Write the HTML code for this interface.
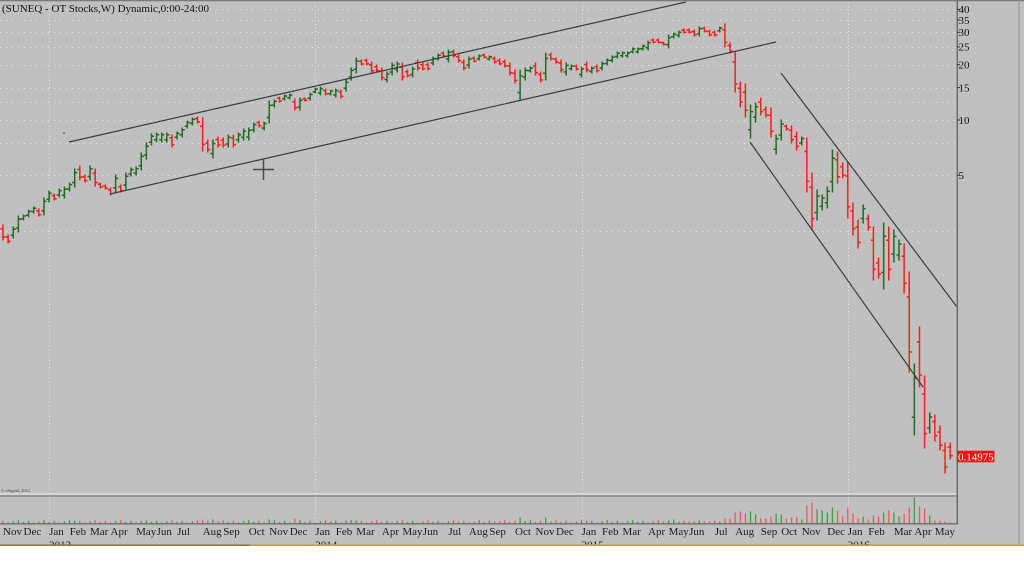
<!DOCTYPE html>
<html><head><meta charset="utf-8"><style>
html,body{margin:0;padding:0;background:#fff;}
body{width:1024px;height:576px;overflow:hidden;}
svg{display:block;}
text{font-family:"Liberation Serif",serif;}
</style></head><body>
<svg id="c" width="1024" height="576" viewBox="0 0 1024 576" xmlns="http://www.w3.org/2000/svg">
<rect x="0" y="0" width="1024" height="546" fill="#c0c0c0"/>
<g id="grid"></g>
<g id="vol"></g>
<g id="bars"></g>
<g fill="none" stroke="#3c3c3c" stroke-width="1.2">
<line x1="69" y1="142" x2="686" y2="2"/>
<line x1="110" y1="194" x2="776" y2="42"/>
<line x1="750" y1="142" x2="923" y2="387"/>
<line x1="781" y1="73" x2="957" y2="307"/>
</g>
<circle cx="64" cy="133" r="0.8" fill="#333"/>
<g stroke="#4a4a4a" stroke-width="1.5">
<line x1="253" y1="169.5" x2="274" y2="169.5"/>
<line x1="263.5" y1="159" x2="263.5" y2="180"/>
</g>
<line x1="0" y1="0.5" x2="1024" y2="0.5" stroke="#7a7a7a" stroke-width="1.5"/>
<line x1="0" y1="494" x2="957" y2="494" stroke="#ececec" stroke-width="1"/>
<line x1="0" y1="496" x2="957" y2="496" stroke="#7c7c7c" stroke-width="1.2"/>
<line x1="0" y1="523.8" x2="957" y2="523.8" stroke="#6c6c6c" stroke-width="1.3"/>
<line x1="957.3" y1="0" x2="957.3" y2="524.5" stroke="#6c6c6c" stroke-width="1.5"/>
<line x1="1019" y1="0" x2="1019" y2="546" stroke="#9c9c9c" stroke-width="1.2"/>
<g id="axis" font-size="11" fill="#111"></g>
<text x="2" y="12" font-size="11" fill="#111">(SUNEQ - OT Stocks,W) Dynamic,0:00-24:00</text>
<text x="1" y="492" font-size="4.5" fill="#444">© eSignal, 2011</text>
<rect x="957" y="450.7" width="37.5" height="11.6" fill="#ff1010"/>
<text x="958" y="460.5" font-size="11" fill="#fff">0.14975</text>
<g id="months" font-size="11" fill="#1a1a1a"></g>
<rect x="0" y="546" width="1024" height="30" fill="#ffffff"/>
<line x1="0" y1="545.2" x2="250" y2="545.2" stroke="#8f7a45" stroke-width="1.6"/>
<line x1="250" y1="545.2" x2="1024" y2="545.2" stroke="#c4a04a" stroke-width="1.6"/>
</svg>
<script>
(function(){
var NS="http://www.w3.org/2000/svg";
function el(tag,attrs,parent,txt){var e=document.createElementNS(NS,tag);for(var k in attrs)e.setAttribute(k,attrs[k]);if(txt!==undefined)e.textContent=txt;parent.appendChild(e);return e;}
var D=[
[225,240,'R'],[235,243,'R'],[227,238,'G'],[216,232,'G'],[215,220,'G'],[210,217,'G'],[207,213,'G'],[209,216,'R'],[198,215,'G'],[191,202,'G'],
[194,200,'R'],[189,197,'G'],[187,198,'G'],[183,191,'G'],[169,187,'G'],[166,180,'R'],[175,182,'R'],[166,180,'G'],[169,186,'R'],[183,188,'R'],
[185,189,'R'],[188,195,'R'],[175,192,'G'],[185,192,'R'],[173,189,'G'],[168,176,'G'],[167,175,'G'],[153,170,'G'],[143,159,'G'],[134,145,'G'],
[133,142,'G'],[133,142,'G'],[133,142,'G'],[135,147,'R'],[132,139,'G'],[128,137,'G'],[121,128,'G'],[118,125,'G'],[117,123,'R'],[118,151,'R'],
[140,152,'R'],[140,158,'G'],[137,147,'R'],[138,147,'R'],[135,147,'G'],[135,147,'R'],[133,142,'G'],[129,140,'G'],[128,140,'G'],[123,132,'G'],
[121,127,'R'],[122,130,'G'],[101,123,'G'],[100,107,'G'],[97,102,'R'],[95,100,'G'],[94,99,'G'],[99,110,'R'],[98,110,'G'],[98,101,'R'],
[93,100,'G'],[88,93,'G'],[87,95,'G'],[89,95,'R'],[90,95,'G'],[89,97,'G'],[90,98,'R'],[80,91,'G'],[68,80,'G'],[58,73,'G'],
[60,65,'R'],[59,65,'R'],[62,73,'R'],[65,72,'R'],[68,80,'R'],[72,82,'G'],[63,75,'G'],[62,72,'G'],[63,80,'R'],[70,77,'R'],
[67,77,'G'],[60,70,'R'],[63,70,'R'],[63,70,'R'],[57,65,'G'],[54,60,'G'],[52,57,'R'],[50,62,'G'],[50,57,'R'],[55,62,'R'],
[60,70,'R'],[57,68,'G'],[57,62,'R'],[55,60,'G'],[54,58,'R'],[56,60,'G'],[57,63,'R'],[59,65,'R'],[60,67,'R'],[63,75,'R'],
[70,83,'R'],[70,100,'G'],[68,80,'G'],[67,72,'G'],[63,75,'R'],[72,82,'R'],[53,80,'G'],[53,60,'R'],[58,63,'R'],[60,72,'R'],
[63,75,'G'],[65,70,'G'],[65,70,'R'],[67,77,'G'],[62,72,'R'],[67,73,'G'],[65,72,'R'],[62,70,'G'],[59,65,'G'],[56,62,'G'],
[52,58,'G'],[52,57,'G'],[52,57,'G'],[48,53,'G'],[48,53,'G'],[45,50,'G'],[41,50,'G'],[39,43,'R'],[39,43,'R'],[42,45,'R'],
[35,48,'G'],[33,38,'G'],[31,37,'G'],[29,33,'R'],[29,33,'R'],[30,36,'R'],[27,36,'G'],[27,32,'R'],[30,36,'R'],[31,36,'R'],
[27,32,'G'],[24,47,'R'],[43,53,'R'],[52,92,'R'],[82,107,'R'],[84,117,'R'],[105,138,'G'],[103,122,'G'],[98,115,'R'],[107,117,'R'],
[108,137,'R'],[135,154,'G'],[120,140,'G'],[125,130,'R'],[126,143,'R'],[132,150,'R'],[137,145,'G'],[138,192,'R'],[173,230,'R'],[190,220,'G'],
[195,210,'G'],[187,208,'G'],[150,192,'G'],[152,183,'R'],[163,178,'R'],[162,218,'R'],[203,235,'R'],[220,248,'R'],[205,223,'G'],[215,230,'R'],
[227,280,'R'],[258,278,'R'],[223,289,'G'],[227,280,'R'],[230,262,'G'],[240,260,'G'],[244,293,'R'],[272,372,'R'],[364,435,'G'],[327,387,'R'],
[376,448,'R'],[413,433,'G'],[415,441,'R'],[426,450,'R'],[443,473,'R'],[443,459,'R']
];
var VL={129:2,130:3,131:4,132:2,133:3,134:2,135:2,136:3,137:2,138:2,139:3,140:2,141:5,142:5,143:11,144:12,145:10,146:12,147:9,148:5,149:5,150:7,151:10,152:9,153:5,154:6,155:6,156:4,157:18,158:21,159:14,160:13,161:11,162:16,163:13,164:7,165:16,166:10,167:5,168:7,169:4,170:8,171:7,172:11,173:13,174:11,175:7,176:10,177:16,178:26,179:17,180:15,181:8,182:3,183:3,184:2,185:1.3,
14:3,39:4,52:4,57:5,101:6,106:6,28:3,41:4,67:3,69:3,96:2,114:3};
var bars=document.getElementById('bars'),vol=document.getElementById('vol');
var sp=5.12,x0=3;
var pr='',pg='',vr='',vg='';
for(var i=0;i<D.length;i++){
 var x=x0+sp*i,h=D[i][0],l=D[i][1],c=D[i][2],r=l-h;
 var o,cl;
 if(c==='G'){o=l-0.25*r;cl=h+0.2*r;}else{o=h+0.25*r;cl=l-0.2*r;}
 var s='M'+x.toFixed(2)+' '+(h-0.5)+'V'+(l+0.5)+'M'+(x-2.6).toFixed(2)+' '+o.toFixed(1)+'H'+x.toFixed(2)+'M'+x.toFixed(2)+' '+cl.toFixed(1)+'H'+(x+2.6).toFixed(2);
 if(c==='G')pg+=s;else pr+=s;
 var vh=VL[i]!==undefined?VL[i]:(1+((i*7+3)%5)*0.6);
 var vs='M'+x.toFixed(2)+' 523.5V'+(523.5-vh).toFixed(1);
 if(c==='G')vg+=vs;else vr+=vs;
}
el('path',{d:pr,stroke:'#ff1c1c','stroke-width':'1.5',fill:'none'},bars);
el('path',{d:pg,stroke:'#236a23','stroke-width':'1.5',fill:'none'},bars);
el('path',{d:vr,stroke:'#ee5a5a','stroke-width':'1.3',fill:'none'},vol);
el('path',{d:vg,stroke:'#3f9e3f','stroke-width':'1.3',fill:'none'},vol);
// grid
var grid=document.getElementById('grid');
function py(p){return 120-79.8*Math.log(p/10);}
var lv=[40,35,30,25,20,15,12.5,10,7.5,5,2.5];
for(var k=0;k<lv.length;k++){var y=Math.round(py(lv[k]))+0.5;
 el('line',{x1:0,y1:y,x2:956,y2:y,stroke:'#e6e6e6','stroke-width':'1','stroke-dasharray':'1 5'},grid);}
// axis labels
var ax=document.getElementById('axis');
var labs=[40,35,30,25,20,15,10,5];
for(var k=0;k<labs.length;k++){var y=py(labs[k]);
 el('text',{x:958.5,y:(y+3.8).toFixed(1)},ax,String(labs[k]));
 el('line',{x1:957,y1:y.toFixed(1),x2:960,y2:y.toFixed(1),stroke:'#333','stroke-width':'1'},ax);}
// months
var mg=document.getElementById('months');
var names=['Jan','Feb','Mar','Apr','May','Jun','Jul','Aug','Sep','Oct','Nov','Dec'];
var base=Date.UTC(2012,10,5),prev=-1;
for(var i=0;i<D.length;i++){
 var d=new Date(base+i*7*86400000),m=d.getUTCMonth(),x=x0+sp*i;
 if(m!==prev){
  el('text',{x:x.toFixed(1),y:535},mg,names[m]);
  if(m===0&&i>0){
   el('text',{x:x.toFixed(1),y:548.5},mg,String(d.getUTCFullYear()));
   var xx=Math.round(x)+0.5;
   el('line',{x1:xx,y1:3,x2:xx,y2:523,stroke:'#e8e8e8','stroke-width':'1','stroke-dasharray':'1 2.5'},grid);
  }
 }
 prev=m;
}
})();
</script>
</body></html>
